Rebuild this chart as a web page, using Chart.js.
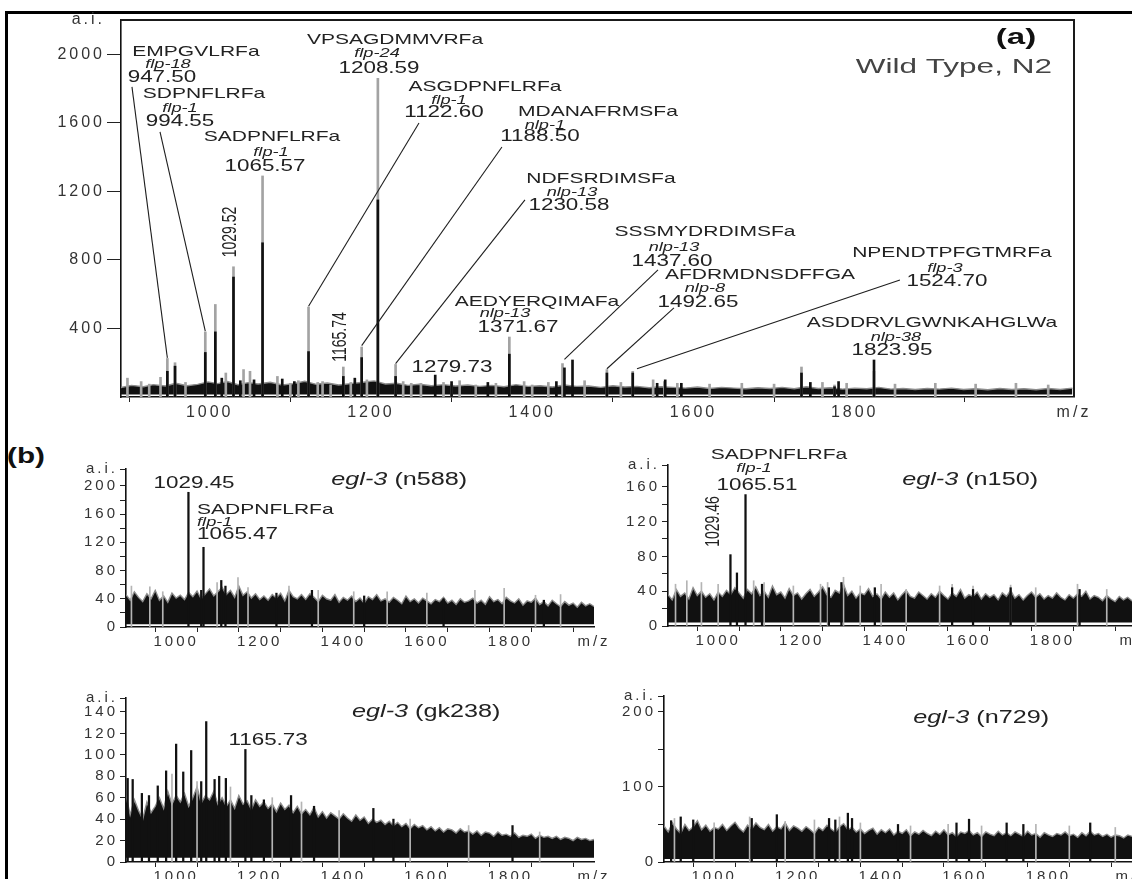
<!DOCTYPE html>
<html><head><meta charset="utf-8">
<script src="https://cdn.jsdelivr.net/npm/chart.js@4/dist/chart.umd.min.js"></script>
<style>
html,body{margin:0;padding:0;background:#fff;width:1132px;height:879px;overflow:hidden;position:relative;}
canvas{position:absolute;}
#frame{position:absolute;left:5px;top:11px;width:1140px;height:890px;border-top:3px solid #000;border-left:3px solid #000;}
#lb{position:absolute;left:7px;top:443px;font:bold 22px "Liberation Sans",Arial,sans-serif;transform:scaleX(1.35);transform-origin:left top;color:#111;}
</style></head><body>
<div id="frame"></div>
<div id="lb">(b)</div>
<canvas id="cMain"></canvas>
<canvas id="cB1"></canvas>
<canvas id="cB2"></canvas>
<canvas id="cB3"></canvas>
<canvas id="cB4"></canvas>
<script>
// ---------------- DATA ----------------
// Panel (a) Wild Type N2
const mainNoiseMz = [890,903,918,930,945,958,972,985,998,1010,1022,1035,1048,1060,1075,1090,1104,1118,1132,1146,1160,1175,1190,1204,1218,1232,1246,1260,1275,1290,1305,1320,1335,1350,1365,1380,1395,1410,1425,1440,1455,1470,1485,1500,1515,1530,1545,1560,1575,1590,1605,1620,1635,1650,1665,1680,1695,1710,1725,1740,1755,1770,1785,1800,1815,1830,1845,1860,1875,1890,1905,1920,1935,1950,1965,1980,1995,2010,2025,2040,2055,2070];
const mainNoiseAi = [55,68,60,72,64,80,66,74,88,78,90,72,84,76,86,70,78,92,74,82,70,78,86,94,76,80,68,74,66,72,64,70,62,68,60,72,62,66,58,70,62,64,56,66,58,62,54,60,56,52,58,50,56,52,48,54,50,56,48,60,50,54,46,52,48,56,46,50,44,50,46,52,44,48,42,50,44,48,42,50,44,52];
const mainGrayMz = [898,915,925,939,947.5,957,970,994.55,1007,1020,1029.52,1042,1050,1065.57,1084,1100,1110,1122.6,1134,1140,1150,1165.74,1175,1188.5,1195,1208.59,1230.58,1240,1250,1262,1290,1300,1310,1330,1355,1371.67,1390,1400,1420,1437.6,1465,1492.65,1510,1524.7,1550,1564,1580,1620,1660,1700,1734,1760,1775,1790,1823.95,1850,1900,1950,2000,2040];
const mainGrayAi = [110,90,75,115,225,200,85,380,540,140,760,160,150,1290,120,80,95,525,85,90,70,175,85,292,100,1860,190,90,80,80,85,75,95,70,80,350,90,70,85,195,95,160,85,150,100,90,80,75,80,75,175,85,70,80,150,75,80,75,80,70];
const mainBlackMz = [947.5,957,994.55,1007,1015,1029.52,1038,1055,1065.57,1090,1105,1122.6,1165.74,1180,1188.5,1208.59,1230.58,1279.73,1300,1345,1371.67,1430,1440,1450,1492.65,1524.7,1555,1565,1585,1734,1745,1775,1780,1823.95];
const mainBlackAi = [150,180,260,380,110,700,95,100,900,105,90,265,120,110,230,1150,120,128,90,85,250,90,170,216,140,140,80,100,80,140,85,60,90,216];
const mainXTicks = [1000,1200,1400,1600,1800,2072];
const mainXLabels = ['1000','1200','1400','1600','1800','m/z'];
const mainYTicks = [400,800,1200,1600,2000,2200];
const mainYLabels = ['400','800','1200','1600','2000','a.i.'];

// Panel (b) common axes
const bXTicks = [900,1000,1100,1200,1300,1400,1500,1600,1700,1800,1900,2000];
const bXLabels = ['','1000','','1200','','1400','','1600','','1800','','m/z'];
const bNoiseMz = [880,890,900,910,920,930,940,950,960,970,980,990,1000,
  1010,1020,1030,1040,1050,1060,1070,1080,1090,1100,
  1110,1120,1130,1140,1150,1160,1170,1180,1190,1200,
  1210,1220,1230,1240,1250,1260,1270,1280,1290,1300,
  1310,1320,1330,1340,1350,1360,1370,1380,1390,1400,
  1410,1420,1430,1440,1450,1460,1470,1480,1490,1500,
  1510,1520,1530,1540,1550,1560,1570,1580,1590,1600,
  1610,1620,1630,1640,1650,1660,1670,1680,1690,1700,
  1710,1720,1730,1740,1750,1760,1770,1780,1790,1800,
  1810,1820,1830,1840,1850,1860,1870,1880,1890,1900,
  1910,1920,1930,1940,1950,1960,1970,1980,1990,2000];

// egl-3 (n588)
const b1NoiseAi = [46,38,50,42,36,47,40,52,38,44,35,48,41,
  45,39,49,43,51,40,47,54,44,50,
  56,46,52,42,58,45,50,41,47,39,
  44,38,46,41,48,37,52,43,40,46,
  39,47,42,36,45,40,38,46,35,42,
  38,44,36,41,34,43,39,46,37,40,
  35,42,38,33,44,36,40,34,41,37,
  33,39,36,42,34,38,32,40,35,37,
  41,34,38,32,43,36,39,33,42,37,
  34,40,31,37,35,41,32,36,30,38,
  33,29,36,31,34,28,35,30,33,29];
const b1GrayMz = [893,937,968,1098,1148,1172,1270,1340,1425,1505,1600,1715,1785,1860,1920];
const b1GrayAi = [58,57,50,63,70,56,58,52,50,50,48,52,55,45,46];
const b1BlackMz = [1029.45,1060,1065.47,1108,1118,1240,1325,1450,1640,1880];
const b1BlackAi = [191,52,113,66,58,48,52,44,40,38];
const b1YTicks = [0,20,40,60,80,100,120,140,160,180,200,224];
const b1YLabels = ['0','','40','','80','','120','','160','','200','a.i.'];

// egl-3 (n150)
const b2NoiseAi = [36,30,42,34,38,31,44,35,40,33,37,30,39,
  34,41,36,44,38,32,42,37,45,35,
  40,33,46,36,39,32,43,35,38,31,
  37,42,34,39,45,36,33,41,38,48,
  35,40,32,38,36,43,34,37,31,39,
  33,38,30,36,41,34,32,39,35,31,
  37,33,40,35,31,38,34,42,32,36,
  34,39,31,37,33,36,30,38,34,41,
  32,36,30,35,39,33,37,31,35,32,
  38,33,30,36,32,37,34,40,31,35,
  33,29,35,31,28,34,30,33,29,31];
const b2GrayMz = [898,925,960,1000,1085,1110,1180,1245,1262,1300,1340,1390,1450,1530,1560,1610,1700,1760,1860,1930];
const b2GrayAi = [48,52,50,48,52,50,46,48,50,56,46,48,42,46,48,46,47,44,48,42];
const b2BlackMz = [1029.46,1045,1065.51,1105,1265,1295,1375,1560,1610,1700,1865];
const b2BlackAi = [82,61,151,48,44,50,44,44,42,44,42];
const b2YTicks = [0,20,40,60,80,100,120,140,160,185];
const b2YLabels = ['0','','40','','80','','120','','160','a.i.'];

// egl-3 (gk238)
const b3NoiseAi = [62,44,58,48,40,56,46,52,60,50,66,54,62,
  56,64,52,60,70,55,62,58,66,54,
  60,52,58,50,62,54,57,49,58,52,
  56,50,54,47,55,49,53,46,52,45,
  49,44,51,42,47,41,46,43,40,45,
  41,38,44,39,42,36,40,37,39,35,
  38,34,37,33,36,31,35,32,34,30,
  33,29,32,28,31,30,27,31,28,29,
  26,29,25,28,27,24,28,25,26,24,
  27,23,25,24,26,22,25,23,24,22,
  24,21,23,22,20,23,21,22,20,21];
const b3GrayMz = [990,1050,1130,1230,1300,1390,1560,1700,1870];
const b3GrayAi = [82,75,70,60,56,48,40,34,28];
const b3BlackMz = [884,896,918,935,956,976,1000,1017,1036,1060,1072,1092,1103,1119,1165.73,1180,1210,1275,1330,1472,1520,1805];
const b3BlackAi = [78,77,64,62,71,85,110,84,104,75,131,77,80,78,105,62,58,62,52,50,40,34];
const b3YTicks = [0,20,40,60,80,100,120,140,153];
const b3YLabels = ['0','20','40','60','80','100','120','140','a.i.'];

// egl-3 (n729)
const b4NoiseAi = [48,40,52,44,38,50,42,47,55,43,49,41,46,
  44,50,42,48,53,45,40,49,44,52,
  46,43,50,41,47,44,52,42,48,45,
  41,47,43,38,46,42,49,44,40,47,
  51,43,46,40,44,38,42,45,37,43,
  39,44,36,41,38,43,35,40,37,42,
  38,35,41,37,43,36,39,34,40,38,
  42,36,39,34,40,37,35,41,36,39,
  35,40,37,34,41,36,38,33,39,36,
  34,38,36,40,35,37,33,39,35,41,
  36,38,34,37,33,36,35,32,36,34];
const b4GrayMz = [905,1000,1085,1170,1240,1300,1350,1470,1560,1640,1770,1850,1960];
const b4GrayAi = [58,52,60,54,56,60,52,48,50,48,50,48,46];
const b4BlackMz = [897,920,950,1090,1150,1275,1290,1320,1330,1440,1580,1610,1700,1740,1900];
const b4BlackAi = [55,60,56,58,63,58,56,65,58,50,52,57,52,50,52];
const b4YTicks = [0,50,100,150,200,221];
const b4YLabels = ['0','','100','','200','a.i.'];

// ---------------- RENDERING ----------------
const FONT = '"Liberation Sans", Arial, sans-serif';

function drawStr(ctx, s, x, y, size, style, align, sx, color, rot) {
  ctx.save();
  ctx.letterSpacing = '0px';
  ctx.font = style + ' ' + size + 'px ' + FONT;
  ctx.fillStyle = color || '#222';
  ctx.textBaseline = 'middle';
  ctx.textAlign = align;
  ctx.translate(x, y);
  ctx.scale(sx, 1);
  if (rot) ctx.rotate(-Math.PI / 2);
  ctx.fillText(s, 0, 0);
  ctx.restore();
}
function drawParts(ctx, parts, cx, cy, size, sx, color) {
  ctx.save();
  ctx.letterSpacing = '0px';
  const widths = parts.map(p => { ctx.font = p[1] + ' ' + size + 'px ' + FONT; return ctx.measureText(p[0]).width * sx; });
  const total = widths.reduce((a, b) => a + b, 0);
  ctx.restore();
  let x = cx - total / 2;
  parts.forEach((p, i) => { drawStr(ctx, p[0], x, cy, size, p[1], 'left', sx, color); x += widths[i]; });
}

function annPlugin(items, box) {
  return {
    id: 'ann',
    afterDatasetsDraw(chart) {
      const ctx = chart.ctx, xs = chart.scales.x, ys = chart.scales.y;
      const SX = 1.4;
      if (box) {
        const a = chart.chartArea;
        ctx.save(); ctx.strokeStyle = '#1a1a1a'; ctx.lineWidth = 2;
        ctx.beginPath(); ctx.moveTo(a.left, a.top); ctx.lineTo(a.right, a.top); ctx.lineTo(a.right, a.bottom); ctx.stroke();
        ctx.restore();
      }
      items.forEach(it => {
        const px = xs.getPixelForValue(it.mz), py = ys.getPixelForValue(it.ai);
        if (it.t === 'block') {
          const al = it.left ? 'left' : 'center';
          drawStr(ctx, it.name, px + it.dn[0], py + it.dn[1], 15, 'normal', al, SX);
          drawStr(ctx, it.gene, px + it.dg[0], py + it.dg[1], 13, 'italic', al, SX);
          drawStr(ctx, it.mass, px, py, 16, 'normal', al, SX);
          if (it.to) {
            ctx.save(); ctx.strokeStyle = '#1e1e1e'; ctx.lineWidth = 1.1;
            ctx.beginPath(); ctx.moveTo(px + it.from[0], py + it.from[1]);
            ctx.lineTo(xs.getPixelForValue(it.to[0]), ys.getPixelForValue(it.to[1]));
            ctx.stroke(); ctx.restore();
          }
        } else if (it.t === 'text') {
          drawStr(ctx, it.s, px, py, it.size || 16, it.style || 'normal', 'center', it.sx || SX, it.color, it.rot);
        } else if (it.t === 'title') {
          drawParts(ctx, it.parts, px, py, it.size || 18, it.sx || SX, it.color || '#222');
        }
      });
    }
  };
}
function lsPlugin(ls) {
  return { id: 'ls', beforeDraw(chart) { chart.ctx.letterSpacing = ls + 'px'; }, afterDraw(chart) { chart.ctx.letterSpacing = '0px'; } };
}
function pts(mz, ai) { return mz.map((m, i) => ({ x: m, y: ai[i] })); }

function panel(id, g, o) {
  const el = document.getElementById(id);
  el.style.left = g.cl + 'px'; el.style.top = g.ct + 'px';
  el.width = g.cw; el.height = g.ch;
  const yW = Math.min(100, g.L - g.cl - 2), xH = 28;
  const pad = { left: g.L - g.cl - yW, top: g.T - g.ct, right: g.cl + g.cw - g.R, bottom: g.ct + g.ch - g.B - xH };
  const font = { family: FONT, size: o.fs };
  new Chart(el, {
    type: 'bar',
    data: {
      datasets: [
        { type: 'bar', data: pts(o.blackMz, o.blackAi), backgroundColor: '#111', barThickness: o.bw, grouped: false, borderWidth: 0, order: 1 },
        { type: 'bar', data: pts(o.grayMz, o.grayAi), backgroundColor: o.gcol, barThickness: o.gbw, grouped: false, borderWidth: 0, order: 2 },
        { type: 'line', data: pts(o.noiseMz, o.noiseAi), borderColor: '#8c8c8c', borderWidth: 1.4, backgroundColor: '#111', fill: { value: o.base }, pointRadius: 0, tension: 0, order: 3 }
      ]
    },
    options: {
      responsive: false, animation: false, devicePixelRatio: 1, events: [],
      layout: { padding: pad },
      plugins: { legend: { display: false }, tooltip: { enabled: false } },
      scales: {
        x: {
          type: 'linear', min: o.xmin, max: o.xmax, offset: false,
          afterBuildTicks: s => { s.ticks = o.xTicks.map(v => ({ value: v })); },
          afterFit: s => { s.height = xH; },
          ticks: { autoSkip: false, maxRotation: 0, minRotation: 0, color: '#333', font: font, padding: 1, callback: (v, i) => o.xLabels[i] },
          grid: { drawOnChartArea: false, drawTicks: true, tickLength: 5, tickColor: '#222', tickWidth: 1 },
          border: { display: true, color: '#111', width: 1.6 }
        },
        y: {
          type: 'linear', min: 0, max: o.ymax,
          afterBuildTicks: s => { s.ticks = o.yTicks.map(v => ({ value: v })); },
          afterFit: s => { s.width = yW; },
          ticks: { autoSkip: false, color: '#333', font: font, padding: 2, callback: (v, i) => o.yLabels[i] },
          grid: { drawOnChartArea: false, drawTicks: true, tickLength: o.ytl, tickWidth: 1,
                  tickColor: c => (o.hideTop && c.tick && c.tick.value === o.ymax) ? 'rgba(0,0,0,0)' : '#222' },
          border: { display: true, color: '#111', width: 1.6 }
        }
      }
    },
    plugins: [lsPlugin(o.ls), annPlugin(o.ann, o.box)]
  });
}

// Panel (a)
panel('cMain', { cl: 0, ct: 0, cw: 1132, ch: 440, L: 121, T: 20, R: 1074, B: 397 }, {
  xmin: 890, xmax: 2072, ymax: 2200, xTicks: mainXTicks, xLabels: mainXLabels, yTicks: mainYTicks, yLabels: mainYLabels,
  noiseMz: mainNoiseMz, noiseAi: mainNoiseAi, grayMz: mainGrayMz, grayAi: mainGrayAi, blackMz: mainBlackMz, blackAi: mainBlackAi,
  base: 14, bw: 2, gbw: 2, gcol: '#a3a3a3', fs: 16, ls: 3, ytl: 14, hideTop: true, box: true,
  ann: [
    { t: 'block', name: 'EMPGVLRFa', gene: 'flp-18', mass: '947.50', mz: 940.8, ai: 1862, dn: [34, -26], dg: [6, -14], from: [-30, 9], to: [947.5, 228] },
    { t: 'block', name: 'SDPNFLRFa', gene: 'flp-1', mass: '994.55', mz: 963.2, ai: 1605, dn: [24, -28], dg: [0, -14], from: [-20, 10], to: [994.55, 385] },
    { t: 'block', name: 'SADPNFLRFa', gene: 'flp-1', mass: '1065.57', mz: 1068.6, ai: 1342, dn: [7, -30], dg: [6, -15] },
    { t: 'block', name: 'VPSAGDMMVRFa', gene: 'flp-24', mass: '1208.59', mz: 1210, ai: 1914, dn: [16, -29], dg: [-2, -16] },
    { t: 'block', name: 'ASGDPNFLRFa', gene: 'flp-1', mass: '1122.60', mz: 1290.6, ai: 1657, dn: [41, -26], dg: [5, -13], from: [-25, 10], to: [1122.6, 530] },
    { t: 'block', name: 'MDANAFRMSFa', gene: 'nlp-1', mass: '1188.50', mz: 1409.6, ai: 1517, dn: [58, -25], dg: [5, -12], from: [-38, 10], to: [1188.5, 300] },
    { t: 'block', name: 'NDFSRDIMSFa', gene: 'nlp-13', mass: '1230.58', mz: 1445.6, ai: 1115, dn: [32, -27], dg: [3, -14], from: [-44, -6], to: [1230.58, 195] },
    { t: 'block', name: 'AEDYERQIMAFa', gene: 'nlp-13', mass: '1371.67', mz: 1382.4, ai: 403, dn: [19, -26], dg: [-13, -15] },
    { t: 'block', name: 'SSSMYDRDIMSFa', gene: 'nlp-13', mass: '1437.60', mz: 1573.4, ai: 788, dn: [33, -30], dg: [2, -15], from: [-14, 8], to: [1440, 220] },
    { t: 'block', name: 'AFDRMDNSDFFGA', gene: 'nlp-8', mass: '1492.65', mz: 1605.6, ai: 549, dn: [62, -28], dg: [7, -15], from: [-24, 5], to: [1492.65, 165] },
    { t: 'block', name: 'NPENDTPFGTMRFa', gene: 'flp-3', mass: '1524.70', mz: 1914.4, ai: 671, dn: [5, -29], dg: [-2, -14], from: [-47, -2], to: [1530, 165] },
    { t: 'block', name: 'ASDDRVLGWNKAHGLWa', gene: 'nlp-38', mass: '1823.95', mz: 1846.2, ai: 268, dn: [40, -28], dg: [4, -14] },
    { t: 'text', s: '1029.52', mz: 1026.4, ai: 963, size: 14, rot: true },
    { t: 'text', s: '1165.74', mz: 1162.8, ai: 350, size: 14, rot: true },
    { t: 'text', s: '1279.73', mz: 1300.5, ai: 169, size: 16 },
    { t: 'text', s: '(a)', mz: 2000, ai: 2095, size: 22, style: 'bold', sx: 1.5, color: '#111' },
    { t: 'text', s: 'Wild Type, N2', mz: 1923, ai: 1926, size: 21, sx: 1.5, color: '#444' }
  ]
});

// Panel (b) egl-3 (n588)
panel('cB1', { cl: 0, ct: 440, cw: 620, ch: 230, L: 126, T: 469, R: 594, B: 627 }, {
  xmin: 880, xmax: 2000, ymax: 224, xTicks: bXTicks, xLabels: bXLabels, yTicks: b1YTicks, yLabels: b1YLabels,
  noiseMz: bNoiseMz, noiseAi: b1NoiseAi, grayMz: b1GrayMz, grayAi: b1GrayAi, blackMz: b1BlackMz, blackAi: b1BlackAi,
  base: 4, bw: 1.6, gbw: 1, gcol: '#b4b4b4', fs: 15, ls: 3, ytl: 6, hideTop: false, box: false,
  ann: [
    { t: 'text', s: '1029.45', mz: 1042.9, ai: 204, size: 16 },
    { t: 'block', left: true, name: 'SADPNFLRFa', gene: 'flp-1', mass: '1065.47', mz: 1050, ai: 130.5, dn: [0, -25], dg: [0, -13] },
    { t: 'title', parts: [['egl-3', 'italic'], [' (n588)', 'normal']], mz: 1534, ai: 208.5, size: 18 }
  ]
});

// Panel (b) egl-3 (n150)
panel('cB2', { cl: 566, ct: 440, cw: 640, ch: 230, L: 668, T: 465, R: 1136, B: 626 }, {
  xmin: 880, xmax: 2000, ymax: 185, xTicks: bXTicks, xLabels: bXLabels, yTicks: b2YTicks, yLabels: b2YLabels,
  noiseMz: bNoiseMz, noiseAi: b2NoiseAi, grayMz: b2GrayMz, grayAi: b2GrayAi, blackMz: b2BlackMz, blackAi: b2BlackAi,
  base: 4, bw: 1.6, gbw: 1, gcol: '#b4b4b4', fs: 15, ls: 3, ytl: 6, hideTop: false, box: false,
  ann: [
    { t: 'block', name: 'SADPNFLRFa', gene: 'flp-1', mass: '1065.51', mz: 1093, ai: 161, dn: [22, -31], dg: [-3, -17] },
    { t: 'text', s: '1029.46', mz: 990, ai: 120, size: 14, rot: true },
    { t: 'title', parts: [['egl-3', 'italic'], [' (n150)', 'normal']], mz: 1603, ai: 168, size: 18 }
  ]
});

// Panel (b) egl-3 (gk238)
panel('cB3', { cl: 0, ct: 660, cw: 620, ch: 240, L: 126, T: 698, R: 594, B: 862 }, {
  xmin: 880, xmax: 2000, ymax: 153, xTicks: bXTicks, xLabels: bXLabels, yTicks: b3YTicks, yLabels: b3YLabels,
  noiseMz: bNoiseMz, noiseAi: b3NoiseAi, grayMz: b3GrayMz, grayAi: b3GrayAi, blackMz: b3BlackMz, blackAi: b3BlackAi,
  base: 4, bw: 1.6, gbw: 1, gcol: '#b4b4b4', fs: 15, ls: 3, ytl: 6, hideTop: false, box: false,
  ann: [
    { t: 'text', s: '1165.73', mz: 1220, ai: 113, size: 16 },
    { t: 'title', parts: [['egl-3', 'italic'], [' (gk238)', 'normal']], mz: 1598.6, ai: 140, size: 18 }
  ]
});

// Panel (b) egl-3 (n729)
panel('cB4', { cl: 566, ct: 660, cw: 640, ch: 240, L: 664, T: 696, R: 1132, B: 862 }, {
  xmin: 880, xmax: 2000, ymax: 221, xTicks: bXTicks, xLabels: bXLabels, yTicks: b4YTicks, yLabels: b4YLabels,
  noiseMz: bNoiseMz, noiseAi: b4NoiseAi, grayMz: b4GrayMz, grayAi: b4GrayAi, blackMz: b4BlackMz, blackAi: b4BlackAi,
  base: 4, bw: 1.6, gbw: 1, gcol: '#b4b4b4', fs: 15, ls: 3, ytl: 6, hideTop: false, box: false,
  ann: [
    { t: 'title', parts: [['egl-3', 'italic'], [' (n729)', 'normal']], mz: 1639, ai: 192, size: 18 }
  ]
});
</script>
</body></html>
